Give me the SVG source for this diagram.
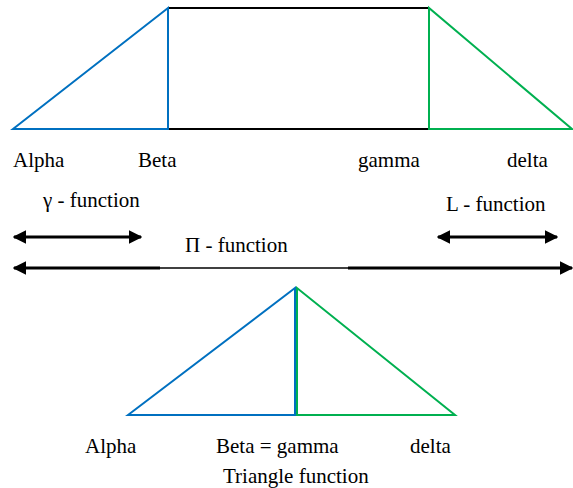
<svg xmlns="http://www.w3.org/2000/svg" width="573" height="488" viewBox="0 0 573 488">
<style>
text{font-family:'Liberation Serif','Times New Roman','DejaVu Serif',serif;font-size:21px;fill:#000}
.b{fill:none;stroke:#0070C0;stroke-width:2}
.g{fill:none;stroke:#00B050;stroke-width:2}
.k{fill:none;stroke:#000;stroke-width:2}
.a{stroke:#000;stroke-width:3;fill:none}
</style>
<defs>
<marker id="ah" viewBox="0 0 10 10" refX="9" refY="5" markerWidth="4.5" markerHeight="4.5" orient="auto-start-reverse" markerUnits="strokeWidth">
<path d="M0,0 L10,5 L0,10 z" fill="#000"/>
</marker>
</defs>
<g id="trapezoid">
<path class="k" d="M168,8 H429 M168,129 H429"/>
<path class="b" d="M13,129 L168,8 V129 Z"/>
<path class="g" d="M429,8 V129 H572 Z"/>
</g>
<g id="labels-top">
<text x="13" y="167">Alpha</text>
<text x="138" y="167">Beta</text>
<text x="358" y="167">gamma</text>
<text x="507" y="167">delta</text>
</g>
<g id="connectors">
<line class="a" x1="14" y1="237" x2="141" y2="237" marker-start="url(#ah)" marker-end="url(#ah)"/>
<line class="a" x1="438" y1="237" x2="557" y2="237" marker-start="url(#ah)" marker-end="url(#ah)"/>
<line class="a" x1="14" y1="268" x2="160" y2="268" marker-start="url(#ah)"/>
<line stroke="#000" stroke-width="1.5" x1="160" y1="268" x2="348" y2="268"/>
<line class="a" x1="348" y1="268" x2="572" y2="268" marker-end="url(#ah)"/>
</g>
<g id="function-labels">
<text x="43" y="207">γ - function</text>
<text x="446" y="211">L - function</text>
<text x="185" y="252">Π - function</text>
</g>
<g id="triangle">
<path class="b" d="M128,415 L295,288 V415 Z"/>
<path class="g" d="M297,288 V415 H455 Z"/>
</g>
<g id="labels-bottom">
<text x="85" y="453">Alpha</text>
<text x="216" y="453">Beta = gamma</text>
<text x="410" y="453">delta</text>
<text x="223" y="483">Triangle function</text>
</g>
</svg>
